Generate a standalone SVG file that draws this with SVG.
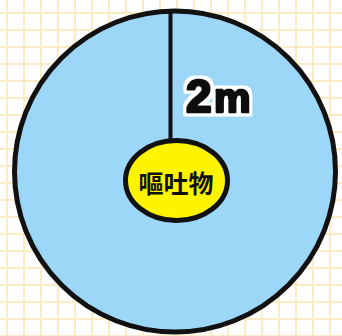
<svg xmlns="http://www.w3.org/2000/svg" width="342" height="336" viewBox="0 0 342 336">
<defs>
<pattern id="grid" x="6" y="12" width="17" height="17" patternUnits="userSpaceOnUse">
<path d="M1 0V17M0 1H17" stroke="#FCEBC4" stroke-width="2" fill="none"/>
</pattern>
<filter id="halo" x="-20%" y="-30%" width="140%" height="160%">
<feMorphology in="SourceAlpha" operator="dilate" radius="3" result="d"/>
<feFlood flood-color="#fff"/>
<feComposite in2="d" operator="in" result="w"/>
<feMerge><feMergeNode in="w"/><feMergeNode in="SourceGraphic"/></feMerge>
</filter>
</defs>
<style>
.outline{stroke:#111;stroke-width:5}
.lbl{font-family:"Liberation Sans","DejaVu Sans",sans-serif;font-weight:bold}
</style>
<rect width="342" height="336" fill="#fff"/>
<rect width="342" height="336" fill="url(#grid)"/>
<g id="area">
<circle cx="175" cy="171.5" r="160.5" fill="#9DD7F8" class="outline"/>
</g>
<g id="connectors">
<line x1="170.5" y1="10" x2="170.5" y2="141" stroke="#111" stroke-width="4"/>
</g>
<g id="label-2m">
<text x="186" y="112" class="lbl" font-size="46" fill="#111" stroke="#111" stroke-width="3" stroke-linejoin="round" filter="url(#halo)">2<tspan x="214" font-size="41">m</tspan></text>
</g>
<g id="vomit">
<ellipse cx="176.5" cy="180.5" rx="51" ry="40" fill="#FFF400" class="outline" stroke-width="4.5"/>
<text x="176" y="193" text-anchor="middle" font-family="'Noto Sans CJK JP','Noto Sans CJK SC',sans-serif" font-weight="bold" font-size="25" fill="#111">嘔吐物</text>
</g>
</svg>
